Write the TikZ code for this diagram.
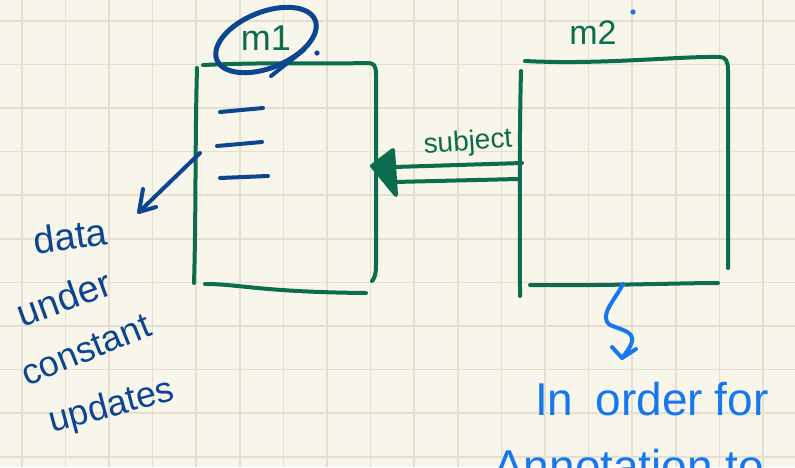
\documentclass[tikz,border=0pt]{standalone}
\usepackage{fontspec}
\setmainfont{Liberation Sans}
\definecolor{paper}{HTML}{F8F5EA}
\definecolor{gridc}{HTML}{E3DFD1}
\definecolor{pen}{HTML}{0B6C4E}
\definecolor{navy}{HTML}{0C4690}
\definecolor{sky}{HTML}{1677EE}
\begin{document}
\begin{tikzpicture}[x=1pt,y=-1pt,
  ink/.style={line width=4pt, line cap=round, line join=round},
  greenink/.style={ink, draw=pen},
  navyink/.style={ink, draw=navy},
  skyink/.style={ink, draw=sky},
  gridline/.style={draw=gridc, line width=1.6pt},
  hand/.style={inner sep=0pt, font=\fontsize{#1}{#1}\selectfont},
]
\useasboundingbox (0,0) rectangle (795,467);
\clip (0,0) rectangle (795,467);

% squared paper
\fill[paper] (0,0) rectangle (795,467);
\foreach \k in {0,...,17} \draw[gridline] ({21.8+43.6*\k},0) -- ({21.8+43.6*\k},467);
\foreach \k in {0,...,10} \draw[gridline] (0,{20.7+43.6*\k}) -- (795,{20.7+43.6*\k});

% box m1
\draw[greenink] (197,68) .. controls (195,140) and (196,220) .. (194,283);
\draw[greenink] (203,65) .. controls (270,62) and (330,64) .. (368,63)
  .. controls (374,63) and (376,66) .. (376,74) -- (376,265)
  .. controls (376,275) and (374,279) .. (372,281);
\draw[greenink] (205,284) .. controls (240,284) and (260,292) .. (366,293);

% box m2
\draw[greenink] (521,71) .. controls (519,150) and (520,230) .. (520,296);
\draw[greenink] (525,61) .. controls (600,65) and (680,56) .. (720,57)
  .. controls (726,57) and (728,62) .. (728,70) -- (728,268);
\draw[greenink] (530,285) .. controls (600,286) and (680,283) .. (718,283);

% labels of the boxes
\node[hand=36, text=pen] (m1label) at (266,38) {m1};
\node[hand=34, text=pen] (m2label) at (593,33) {m2};
\draw[line width=5pt, line cap=round, draw=navy, shift={(266,40)}, rotate=22]
  (0,0) ellipse [x radius=53, y radius=28];
\coordinate (tailA) at (304,50);
\coordinate (tailB) at (271,76);
\draw[navyink] (tailA) -- (tailB);
\fill[navy] (317,53) circle (2.6);
\fill[sky] (633,12) circle (2.6);

% entries inside m1
\draw[navyink] (220,112) -- (263,108);
\draw[navyink] (217,146) -- (262,142);
\draw[navyink] (220,178) -- (268,176);

% note on the left
\coordinate (noteStart) at (200,153);
\coordinate (noteTip) at (139,212);
\draw[navyink] (noteStart) -- (noteTip);
\draw[navyink] (143,189) -- (noteTip) -- (156,207);
\node[hand=38, text=navy, rotate=8] (w1) at (70,236) {data};
\node[hand=38, text=navy, rotate=20] (w2) at (64,298) {under};
\node[hand=36, text=navy, rotate=22] (w3) at (86,350) {constant};
\node[hand=36, text=navy, rotate=15] (w4) at (112,407) {updates};

% subject arrow from m2 to m1
\coordinate (upA) at (522,163);
\coordinate (upB) at (394,167);
\coordinate (loA) at (518,179);
\coordinate (loB) at (394,182);
\draw[greenink] (upA) -- (upB);
\draw[greenink] (loA) -- (loB);
\draw[greenink, fill=pen] (372,166) -- (393,150) -- (396,195) -- cycle;
\node[hand=28, text=pen, rotate=4] (subj) at (468,143) {subject};

% note below m2
\coordinate (sqStart) at (623,284);
\coordinate (sqTip) at (622,358);
\draw[skyink] (sqStart) .. controls (615,300) and (598,316) .. (610,325)
  .. controls (630,333) and (642,333) .. (sqTip);
\draw[skyink] (612,347) -- (sqTip) -- (636,349);
\node[hand=46, text=sky, anchor=base west] (order) at (535,415)
  {In\hspace{22pt}order\hspace{12pt}for};
\node[hand=46, text=sky, anchor=base west] (annot) at (493,482) {Annotation to};
\end{tikzpicture}
\end{document}
